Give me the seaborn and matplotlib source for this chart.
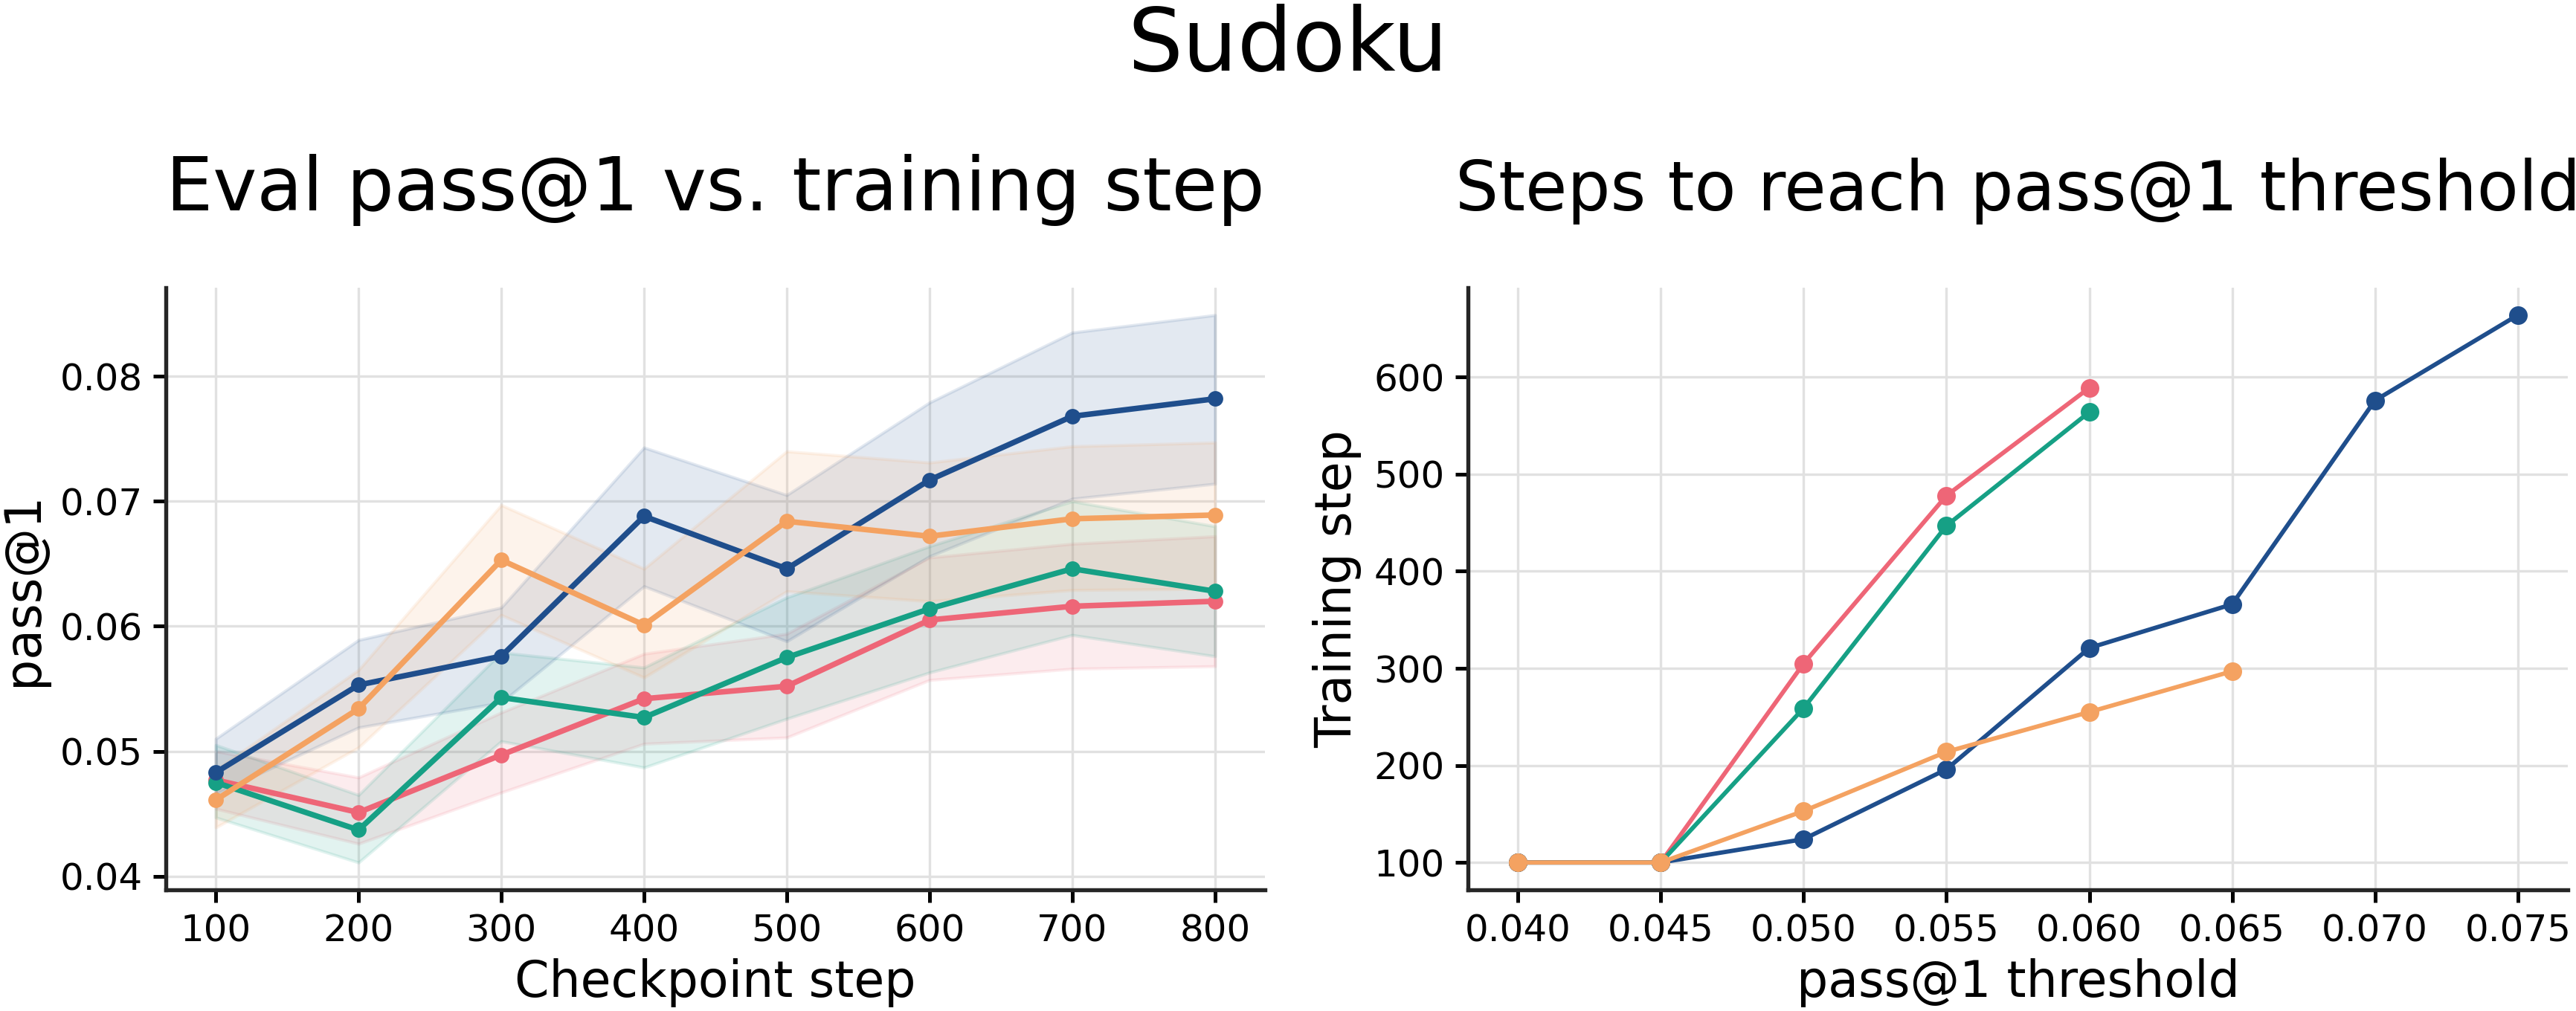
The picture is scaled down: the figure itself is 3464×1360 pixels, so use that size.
import matplotlib
matplotlib.use("Agg")
import matplotlib.pyplot as plt
import seaborn as sns
import pandas as pd
import numpy as np

# ---------------- data ----------------
steps = [100, 200, 300, 400, 500, 600, 700, 800]
series = ["Red", "Green", "Blue", "Orange"]
colors = {"Red": "#EE6677", "Green": "#16A085", "Blue": "#1F4E8C", "Orange": "#F4A261"}

red_mean = [0.0477, 0.0451, 0.0497, 0.0542, 0.0552, 0.0605, 0.0616, 0.0620]
red_lo = [0.0454, 0.0426, 0.0467, 0.0506, 0.0511, 0.0557, 0.0566, 0.0568]
red_hi = [0.0500, 0.0479, 0.0531, 0.0578, 0.0594, 0.0655, 0.0666, 0.0672]

green_mean = [0.0475, 0.0437, 0.0543, 0.0527, 0.0575, 0.0614, 0.0646, 0.0628]
green_lo = [0.0447, 0.0411, 0.0508, 0.0487, 0.0526, 0.0563, 0.0593, 0.0576]
green_hi = [0.0505, 0.0465, 0.0579, 0.0567, 0.0623, 0.0664, 0.0700, 0.0680]

blue_mean = [0.0483, 0.0553, 0.0576, 0.0688, 0.0646, 0.0717, 0.0768, 0.0782]
blue_lo = [0.0466, 0.0519, 0.0539, 0.0632, 0.0588, 0.0656, 0.0702, 0.0714]
blue_hi = [0.0510, 0.0589, 0.0615, 0.0743, 0.0705, 0.0779, 0.0835, 0.0849]

orange_mean = [0.0461, 0.0534, 0.0653, 0.0601, 0.0684, 0.0672, 0.0686, 0.0689]
orange_lo = [0.0439, 0.0503, 0.0609, 0.0559, 0.0628, 0.0620, 0.0629, 0.0630]
orange_hi = [0.0485, 0.0565, 0.0697, 0.0646, 0.0740, 0.0731, 0.0744, 0.0747]

thresholds = [0.040, 0.045, 0.050, 0.055, 0.060, 0.065, 0.070, 0.075]
red_steps = [100, 100, 305, 478, 589]
green_steps = [100, 100, 259, 447, 564]
blue_steps = [100, 100, 124, 196, 321, 366, 576, 664]
orange_steps = [100, 100, 153, 214, 255, 297]

x_ticks_left = [100, 200, 300, 400, 500, 600, 700, 800]
y_ticks_left = [0.04, 0.05, 0.06, 0.07, 0.08]
x_ticks_right = [0.040, 0.045, 0.050, 0.055, 0.060, 0.065, 0.070, 0.075]
y_ticks_right = [100, 200, 300, 400, 500, 600]

means = {"Red": red_mean, "Green": green_mean, "Blue": blue_mean, "Orange": orange_mean}
los = {"Red": red_lo, "Green": green_lo, "Blue": blue_lo, "Orange": orange_lo}
his = {"Red": red_hi, "Green": green_hi, "Blue": blue_hi, "Orange": orange_hi}
reach = {"Red": red_steps, "Green": green_steps, "Blue": blue_steps, "Orange": orange_steps}

rows = []
for s in series:
    for st, m in zip(steps, means[s]):
        rows.append({"series": s, "step": st, "pass1": m})
df_left = pd.DataFrame(rows)
rows = []
for s in series:
    for th, v in zip(thresholds, reach[s]):
        rows.append({"series": s, "threshold": th, "train_step": v})
df_right = pd.DataFrame(rows)

# ---------------- style ----------------
sns.set_theme(style="ticks")
plt.rcParams["font.family"] = ["DejaVu Sans"]
plt.rcParams["axes.linewidth"] = 1.3
plt.rcParams["text.color"] = "black"
plt.rcParams["axes.labelcolor"] = "black"
plt.rcParams["xtick.color"] = "black"
plt.rcParams["ytick.color"] = "black"

W, H = 3464, 1360
DPI = 300
fig = plt.figure(figsize=(W / DPI, H / DPI), dpi=DPI)
ax1 = fig.add_axes([223 / W, 1 - 1197 / H, (1701 - 223) / W, (1197 - 387) / H])
ax2 = fig.add_axes([1974 / W, 1 - 1197 / H, (3453 - 1974) / W, (1197 - 387) / H])

# left panel
for s in series:
    ax1.fill_between(steps, los[s], his[s], color=colors[s], alpha=0.12, lw=1.0)
sns.lineplot(data=df_left, x="step", y="pass1", hue="series", hue_order=series,
             palette=colors, marker="o", markersize=5.0, markeredgewidth=0,
             linewidth=1.8, legend=False, ax=ax1, errorbar=None)

# right panel
sns.lineplot(data=df_right, x="threshold", y="train_step", hue="series", hue_order=series,
             palette=colors, marker="o", markersize=6.0, markeredgewidth=0,
             linewidth=1.4, legend=False, ax=ax2, errorbar=None)

for ax in (ax1, ax2):
    sns.despine(ax=ax)
    ax.grid(True, color="#e1e1e1", lw=0.8)
    ax.set_axisbelow(True)
    ax.tick_params(axis="both", labelsize=12, length=4, width=1.2, color="black",
                   labelcolor="black")

ax1.set_xticks(x_ticks_left)
ax1.set_yticks(y_ticks_left)
ax1.set_yticklabels([f"{v:.2f}" for v in y_ticks_left])
ax2.set_xticks(x_ticks_right)
ax2.set_xticklabels([f"{v:.3f}" for v in x_ticks_right])
ax2.set_yticks(y_ticks_right)

ax1.set_xlabel("Checkpoint step", fontsize=16, labelpad=3)
ax1.set_ylabel("pass@1", fontsize=16, labelpad=4)
ax2.set_xlabel("pass@1 threshold", fontsize=16, labelpad=3)
ax2.set_ylabel("Training step", fontsize=16, labelpad=4)

ax1.set_title("Eval pass@1 vs. training step", fontsize=24, pad=25, color="black")
ax2.set_title("Steps to reach pass@1 threshold", fontsize=22, pad=25, color="black")
fig.text(0.5, 1 - 95 / H, "Sudoku", ha="center", va="baseline", fontsize=28, color="black")

fig.savefig("out.png", dpi=DPI)
